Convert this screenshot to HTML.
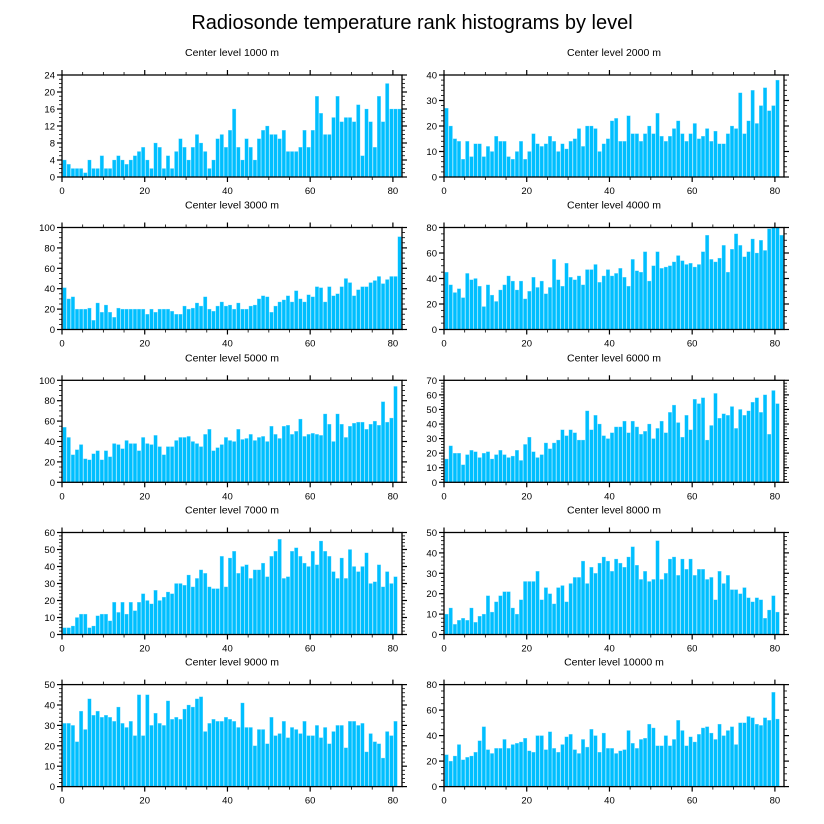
<!DOCTYPE html>
<html><head><meta charset="utf-8">
<style>
html,body{margin:0;padding:0;background:#fff;}
svg{display:block;font-family:"Liberation Sans",sans-serif;}
</style></head>
<body>
<svg id="chart" width="824" height="824" viewBox="0 0 824 824" xmlns="http://www.w3.org/2000/svg">
<text x="412" y="29" text-anchor="middle" font-size="20">Radiosonde temperature rank histograms by level</text>
</svg>
<script>
const levels = [1000,2000,3000,4000,5000,6000,7000,8000,9000,10000];
const yMaxes = [24,40,100,80,100,70,60,50,50,80];
const yMajor = [4,10,20,20,20,10,10,10,10,20];
const yMinor = [1,2,5,5,5,2,2,2,2,5];
const counts1000 = [4,3,2,2,2,1,4,2,2,5,2,2,4,5,4,3,4,5,6,7,4,2,8,7,2,5,2,6,9,7,4,7,10,8,6,2,4,9,10,7,11,16,7,4,9,7,4,9,11,12,10,10,9,11,6,6,6,7,11,7,11,19,15,10,10,14,19,13,14,14,13,17,5,16,13,7,19,13,22,16,16,16];
const counts2000 = [27,20,15,14,7,14,8,13,13,8,12,10,16,14,14,8,7,10,14,7,10,17,13,12,13,16,14,10,13,11,14,15,19,12,20,20,19,10,13,15,22,23,14,14,24,17,17,14,17,20,17,25,16,14,16,19,22,17,14,17,21,15,16,19,14,18,13,13,17,20,19,33,17,22,34,21,28,35,26,28,38];
const counts3000 = [41,30,32,20,20,20,21,9,26,17,24,17,12,21,20,20,20,20,20,20,15,20,17,20,20,20,18,15,15,23,20,21,26,23,32,20,18,23,27,23,24,20,26,20,20,23,24,30,33,32,17,23,27,29,33,27,38,30,27,34,32,42,41,27,42,33,35,42,50,46,33,39,42,42,46,48,52,45,49,52,52,91];
const counts4000 = [45,35,29,32,25,44,39,40,34,18,35,27,22,31,35,42,38,31,38,24,30,41,33,38,28,33,55,39,34,52,41,39,42,35,47,47,51,37,42,47,42,44,48,41,34,55,46,45,61,38,50,61,48,49,50,53,58,54,51,52,49,51,61,74,55,53,56,66,45,63,75,66,57,61,71,60,70,62,79,80,80,74];
const counts5000 = [54,44,27,32,37,23,22,28,31,22,31,25,38,37,33,41,38,38,31,44,38,37,46,35,27,35,35,41,44,44,45,40,38,35,47,52,31,34,37,44,41,40,52,42,43,47,41,44,45,40,55,47,43,55,56,47,50,62,45,47,48,47,46,67,57,40,67,57,44,55,58,59,59,52,57,60,56,79,59,63,94];
const counts6000 = [16,25,20,20,12,19,22,21,17,20,21,16,19,22,19,17,18,22,15,26,31,21,17,19,27,23,27,29,36,32,36,34,29,29,49,36,46,40,32,30,34,38,38,42,34,42,38,33,35,40,30,37,42,34,48,53,41,31,46,36,57,54,58,29,39,61,44,47,46,52,37,50,46,49,55,58,48,60,33,63,54];
const counts7000 = [4,4,5,10,12,12,4,5,11,12,12,8,19,13,19,12,19,14,19,24,20,18,26,20,22,25,24,30,30,29,35,28,33,38,36,28,27,27,46,28,45,49,36,40,41,33,38,38,42,34,46,49,56,33,34,49,51,46,42,40,49,41,55,49,46,37,33,45,33,50,40,37,40,48,30,31,41,28,37,30,34];
const counts8000 = [10,13,5,7,8,7,13,6,9,10,19,11,16,19,21,21,13,10,17,26,26,26,31,17,23,20,15,23,24,16,25,28,28,36,25,33,30,35,38,36,31,37,35,33,38,43,34,27,31,26,27,46,27,30,37,38,29,37,32,37,29,32,32,27,28,17,31,25,29,22,22,20,23,18,16,18,17,8,12,19,11];
const counts9000 = [31,31,30,22,37,28,43,35,37,34,35,34,32,39,31,29,32,25,45,25,45,30,36,31,30,42,33,34,33,38,40,39,43,44,27,31,33,32,32,34,33,32,29,41,29,29,20,28,28,21,34,25,26,32,24,29,28,26,32,25,25,30,24,29,21,27,30,30,19,32,32,30,31,17,26,22,21,14,27,25,32];
const counts10000 = [25,20,24,33,21,23,24,27,36,47,29,26,30,30,37,30,33,34,35,38,28,27,40,40,29,43,30,27,33,39,41,29,26,37,31,45,40,27,42,30,30,26,28,29,44,34,30,37,38,49,46,32,32,40,32,37,52,44,32,39,35,41,46,47,42,37,49,40,44,47,33,50,50,55,54,49,48,54,52,74,53];
const xTicks = [0,20,40,60,80];
const allCounts = [counts1000,counts2000,counts3000,counts4000,counts5000,counts6000,counts7000,counts8000,counts9000,counts10000];

const NS = "http://www.w3.org/2000/svg";
const svg = document.getElementById("chart");
function mk(tag, attrs, parent){
  const e = document.createElementNS(NS, tag);
  for (const k in attrs) e.setAttribute(k, attrs[k]);
  (parent||svg).appendChild(e);
  return e;
}
const colX = [62, 444], W = 340, H = 102;
const rowY = [75, 227.5, 380.3, 532.5, 684.6];
const XMAX = 82.2;

for (let p = 0; p < 10; p++) {
  const L = colX[p % 2], T = rowY[Math.floor(p / 2)], B = T + H, R = L + W;
  const g = mk("g", {});
  
  
  const xs = v => L + v / XMAX * W;
  const ys = v => B - v / yMaxes[p] * H;
  const t = mk("text", {x: L + W / 2, y: T - 19, "text-anchor": "middle", "font-size": 10.5}, g);
  t.textContent = "Center level " + levels[p] + " m";
  
  
  const data = allCounts[p];
  data.forEach((v, i) => {
    const r = mk("rect", {x: xs(i + 0.2), y: ys(v), width: xs(1) - xs(0) - 0.6, height: B - ys(v), fill: "#00bfff", stroke: "#7fdcff", "stroke-width": 0.3}, g);
    
    
  });
  const f = mk("rect", {x: L, y: T, width: W, height: H, fill: "none", stroke: "#000", "stroke-width": 1.3}, g);
  
  
  for (let v = 0; v <= XMAX; v += 5) {
    const major = v % 20 === 0, len = major ? 5 : 3, x = xs(v);
    mk("line", {x1: x, x2: x, y1: B, y2: B + len, stroke: "#000", "stroke-width": major ? 1.2 : 0.8}, g);
    mk("line", {x1: x, x2: x, y1: T, y2: T - len, stroke: "#000", "stroke-width": major ? 1.2 : 0.8}, g);
  }
  xTicks.forEach(v => {
    const tx = mk("text", {x: xs(v), y: B + 17, "text-anchor": "middle", "font-size": 9.5}, g);
    tx.textContent = v;
    
    
  });
  for (let v = 0; v <= yMaxes[p] + 1e-6; v += yMinor[p]) {
    const major = Math.abs(v / yMajor[p] - Math.round(v / yMajor[p])) < 1e-6, len = major ? 5 : 3, y = ys(v);
    mk("line", {x1: L, x2: L - len, y1: y, y2: y, stroke: "#000", "stroke-width": major ? 1.2 : 0.8}, g);
    mk("line", {x1: R, x2: R + len, y1: y, y2: y, stroke: "#000", "stroke-width": major ? 1.2 : 0.8}, g);
    if (major) {
      const ty = mk("text", {x: L - 7, y: y + 3.5, "text-anchor": "end", "font-size": 9.5}, g);
      ty.textContent = Math.round(v);
      
      
    }
  }
}
</script>
</body></html>
